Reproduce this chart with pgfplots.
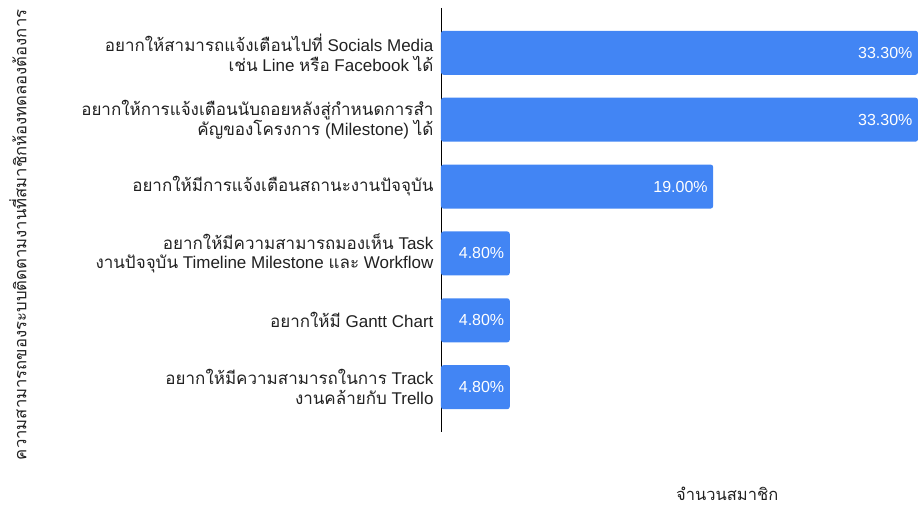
\documentclass[border=0pt]{standalone}
\usepackage{fontspec}
\usepackage{pgfplots}
\pgfplotsset{compat=1.18}
\setmainfont{Liberation Sans}
\newfontfamily\thai[Script=Thai,Scale=1.0]{Loma}
\definecolor{gbar}{HTML}{4285F4}
\begin{document}
\begin{tikzpicture}
\useasboundingbox (0,0) rectangle (918pt,506pt);
\begin{axis}[
    at={(441pt,74pt)}, anchor=south west,
    scale only axis,
    width=477pt, height=424pt,
    xmin=0, xmax=33.3,
    ymin=-0.67, ymax=5.67,
    y dir=reverse,
    clip=false,
    axis x line=none,
    axis y line*=left,
    y axis line style={black, line width=0.9pt},
    ytick={0,...,5},
    major tick length=0pt,
    yticklabels={
        {{\thai อยากให้สามารถแจ้งเตือนไปที่} Socials Media\\{\thai เช่น} Line {\thai หรือ} Facebook {\thai ได้}},
        {{\thai อยากให้การแจ้งเตือนนับถอยหลังสู่กำหนดการสำ}\\{\thai คัญของโครงการ} (Milestone) {\thai ได้}},
        {{\thai อยากให้มีการแจ้งเตือนสถานะงานปัจจุบัน}},
        {{\thai อยากให้มีความสามารถมองเห็น} Task\\{\thai งานปัจจุบัน} Timeline Milestone {\thai และ} Workflow},
        {{\thai อยากให้มี} Gantt Chart},
        {{\thai อยากให้มีความสามารถในการ} Track\\{\thai งานคล้ายกับ} Trello}
    },
    yticklabel style={align=right, font=\fontsize{17}{19.5}\selectfont, xshift=-4pt, text=black!87},
    ylabel={\thai ความสามารถของระบบติดตามงานที่สมาชิกห้องทดลองต้องการ},
    ylabel style={at={(axis description cs:-0.887,0.465)}, anchor=center, rotate=0, font=\fontsize{16.7}{20}\selectfont, text=black!87},
    xbar, bar width=44pt,
    nodes near coords,
    point meta=explicit symbolic,
    every node near coord/.append style={anchor=east, xshift=-2pt, text=white, font=\fontsize{16}{18}\selectfont},
]
\addplot[fill=gbar, draw=none, rounded corners=2.5pt] table[meta=lab] {
x y lab
33.3 0 33.30\%
33.3 1 33.30\%
19.0 2 19.00\%
4.8 3 4.80\%
4.8 4 4.80\%
4.8 5 4.80\%
};
\node[anchor=center, inner sep=0pt, font=\fontsize{16.5}{20}\selectfont, text=black!87]
    at (axis description cs:0.60,-0.146) {\thai จำนวนสมาชิก};
\end{axis}
\end{tikzpicture}
\end{document}
